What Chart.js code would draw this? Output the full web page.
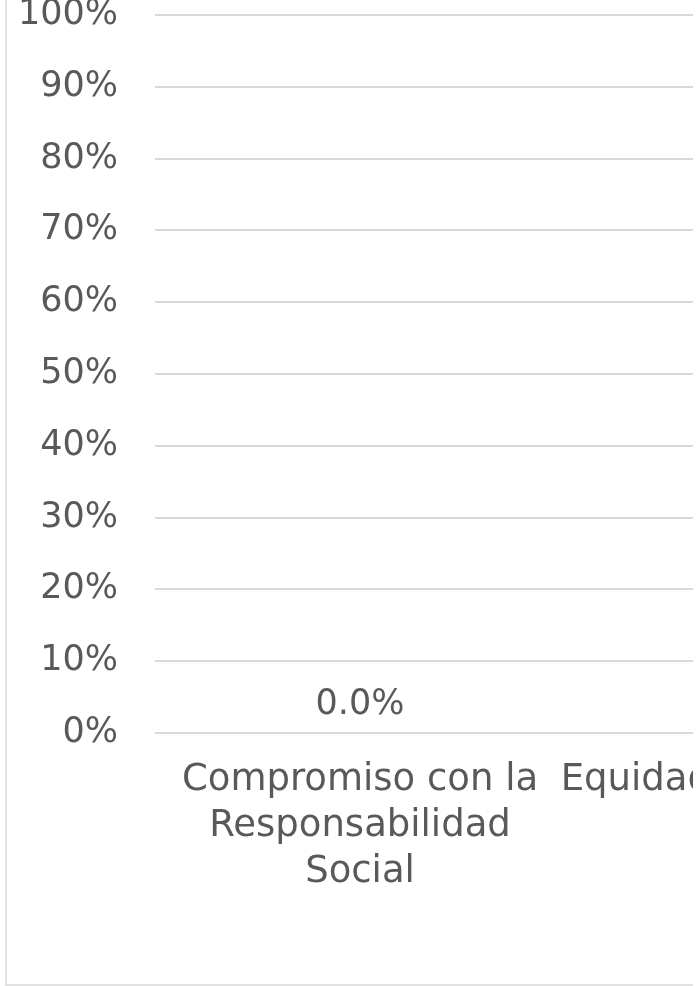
<!DOCTYPE html>
<html>
<head>
<meta charset="utf-8">
<script src="https://cdn.jsdelivr.net/npm/chart.js@4"></script>
<style>
  html, body { margin: 0; padding: 0; background: #fff; }
  body { width: 697px; height: 986px; overflow: hidden; position: relative; }
  #frame {
    position: absolute; left: 5px; top: 0; width: 686px; height: 984px;
    border-left: 2px solid #e2e2e2; border-bottom: 2px solid #e2e2e2;
    overflow: hidden;
  }
  #chart { position: absolute; left: -7px; top: -43px; }
</style>
</head>
<body>
<div id="frame"><canvas id="chart" width="1100" height="1037"></canvas></div>
<script>
const categories = [
  ['Compromiso con la', 'Responsabilidad', 'Social'],
  ['Equidad e Inclusión de', 'Género']
];
const values = [0, 0];
const yTicks = [0, 0.1, 0.2, 0.3, 0.4, 0.5, 0.6, 0.7, 0.8, 0.9, 1];

const textColor = '#595959';
const gridColor = '#d9d9d9';
const fontFamily = '"DejaVu Sans", sans-serif';

// Etiquetas de valor encima de cada barra
const valueLabels = {
  id: 'valueLabels',
  afterDatasetsDraw(chart) {
    const ctx = chart.ctx;
    const meta = chart.getDatasetMeta(0);
    ctx.save();
    ctx.font = '35px ' + fontFamily;
    ctx.fillStyle = textColor;
    ctx.textAlign = 'center';
    ctx.textBaseline = 'middle';
    meta.data.forEach((bar, i) => {
      const txt = (values[i] * 100).toFixed(1) + '%';
      ctx.fillText(txt, bar.x, bar.y - 28);
    });
    ctx.restore();
  }
};

function createChart() {
  const ctx = document.getElementById('chart');
  return new Chart(ctx, {
    type: 'bar',
    data: {
      labels: categories,
      datasets: [{
        data: values,
        backgroundColor: '#4472c4',
        barPercentage: 0.6
      }]
    },
    options: {
      responsive: false,
      animation: false,
      layout: { padding: { top: 0, right: 125, left: 0, bottom: 0 } },
      plugins: {
        legend: { display: false },
        tooltip: { enabled: false }
      },
      scales: {
        x: {
          grid: { display: false, drawTicks: false },
          border: { display: false },
          ticks: {
            color: textColor,
            font: { family: fontFamily, size: 37, lineHeight: 1.243 },
            padding: 24,
            maxRotation: 0,
            autoSkip: false
          },
          afterFit(scale) { scale.height = 261; }
        },
        y: {
          min: 0,
          max: 1,
          afterBuildTicks(scale) {
            scale.ticks = yTicks.map(v => ({ value: v }));
          },
          grid: { color: gridColor, lineWidth: 2, drawTicks: false },
          border: { display: false },
          ticks: {
            color: textColor,
            font: { family: fontFamily, size: 35, lineHeight: 1.2 },
            padding: 37,
            callback: v => Math.round(v * 100) + '%'
          },
          afterFit(scale) { scale.width = 155; }
        }
      }
    },
    plugins: [valueLabels]
  });
}

createChart();
</script>
</body>
</html>
